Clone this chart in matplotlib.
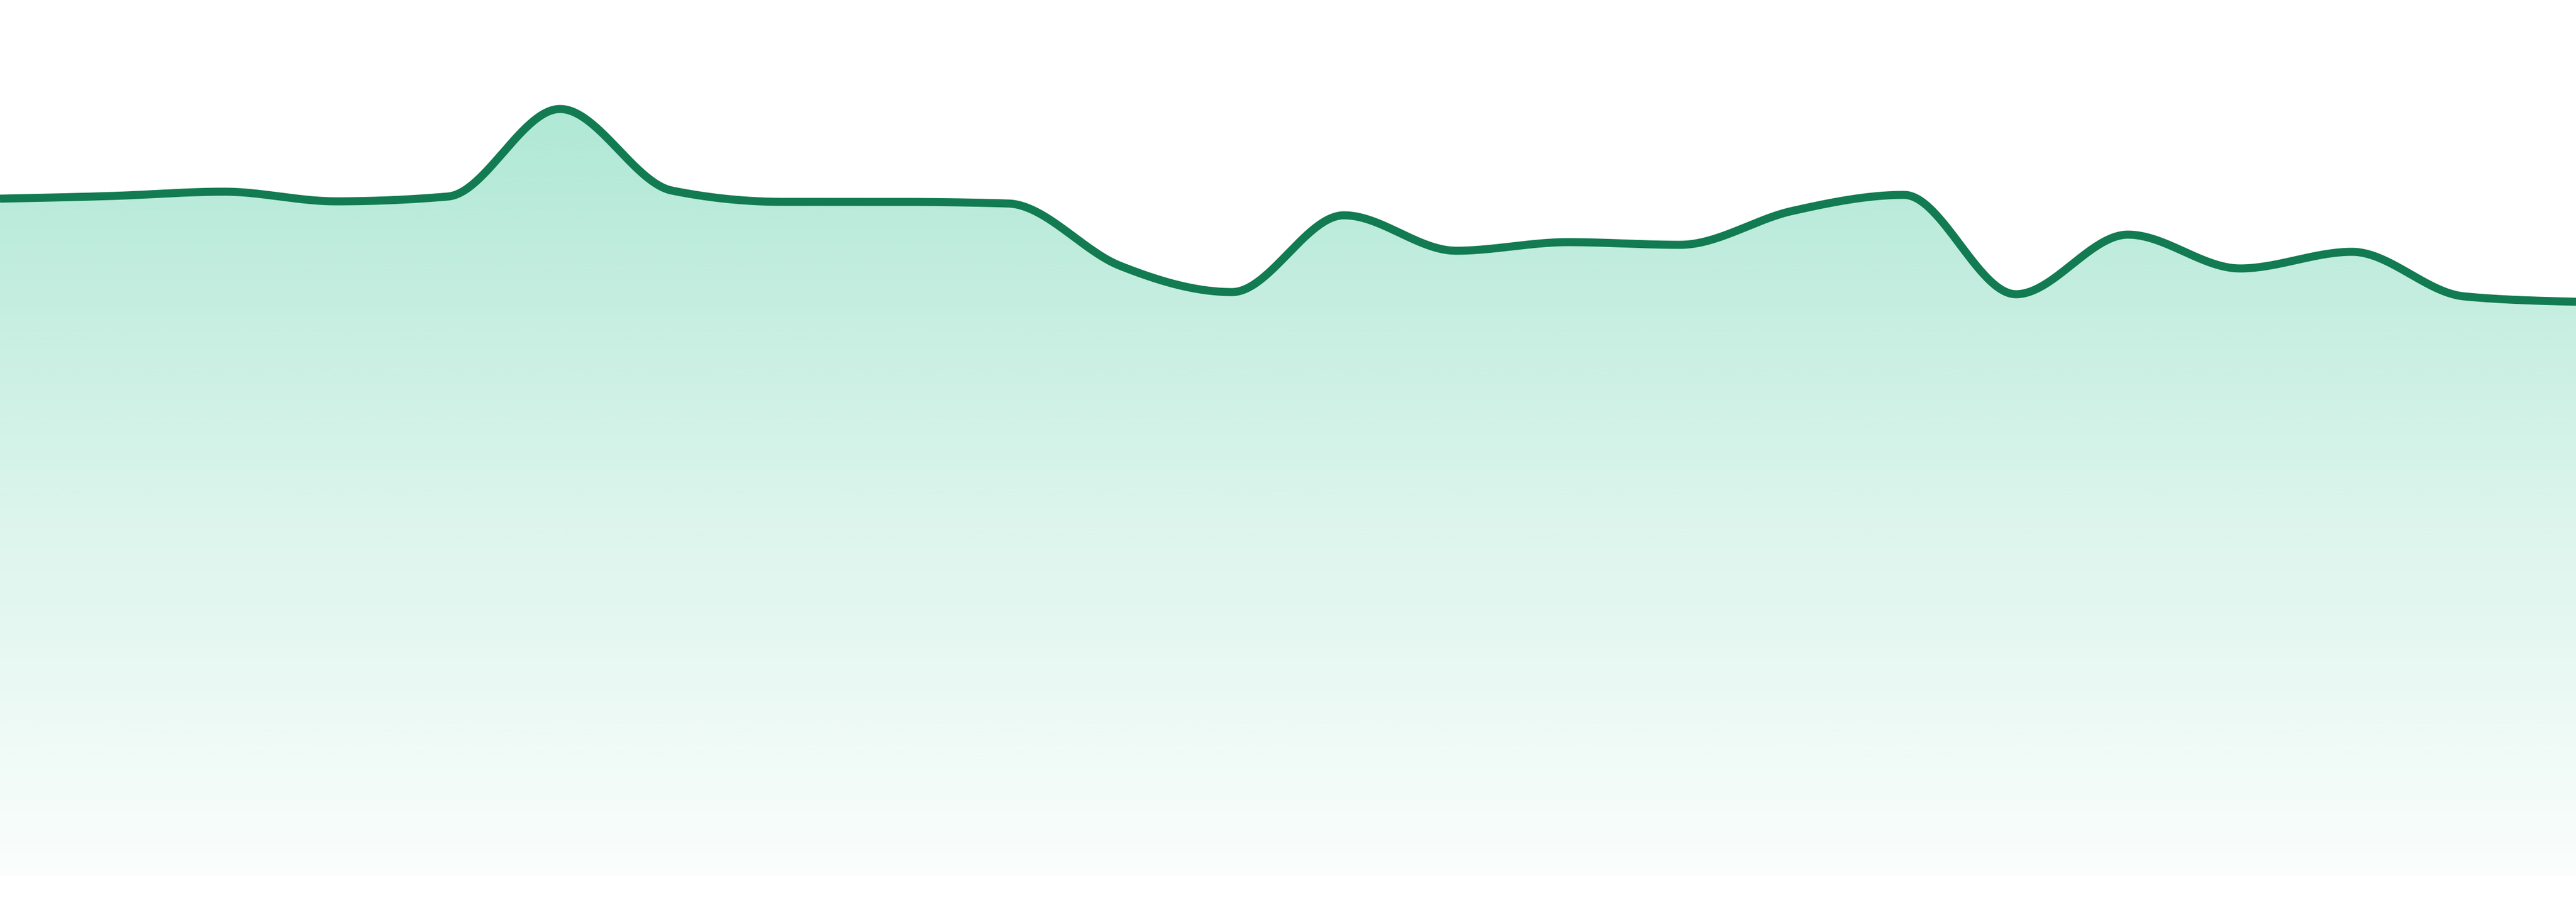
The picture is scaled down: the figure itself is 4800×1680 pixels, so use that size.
import matplotlib
matplotlib.use('Agg')
import matplotlib.pyplot as plt
from matplotlib.patches import Polygon
from matplotlib.colors import to_rgb
import numpy as np

# one value per step
steps = list(range(24))
values = [126.2, 126.7, 127.5, 125.7, 126.6, 142.9, 127.7, 125.6,
          125.6, 125.3, 113.7, 108.8, 123.1, 116.5, 118.1, 117.6,
          123.9, 126.9, 108.4, 119.5, 113.2, 116.3, 108.0, 107.0]

line_color = '#127b52'
fill_color = '#10b981'


def monotone_x(x, y, n=60):
    """monotone cubic curve through the points (same rule as d3 curveMonotoneX)"""
    x = np.asarray(x, float)
    y = np.asarray(y, float)
    h = np.diff(x)
    s = np.diff(y) / h
    t = np.zeros_like(y)
    for i in range(1, len(x) - 1):
        p = (s[i-1]*h[i] + s[i]*h[i-1]) / (h[i-1] + h[i])
        t[i] = (np.sign(s[i-1]) + np.sign(s[i])) * min(abs(s[i-1]), abs(s[i]), 0.5*abs(p))
    t[0] = (3*s[0] - t[1]) / 2
    t[-1] = (3*s[-1] - t[-2]) / 2
    xs, ys = [], []
    u = np.linspace(0, 1, n)
    for i in range(len(x) - 1):
        dx = h[i] / 3
        p0 = (x[i], y[i])
        p1 = (x[i] + dx, y[i] + dx*t[i])
        p2 = (x[i+1] - dx, y[i+1] - dx*t[i+1])
        p3 = (x[i+1], y[i+1])
        b = [(1-u)**3, 3*(1-u)**2*u, 3*(1-u)*u**2, u**3]
        xs.append(b[0]*p0[0] + b[1]*p1[0] + b[2]*p2[0] + b[3]*p3[0])
        ys.append(b[0]*p0[1] + b[1]*p1[1] + b[2]*p2[1] + b[3]*p3[1])
    return np.concatenate(xs), np.concatenate(ys)


W, H = 4800, 1680
bottom_gap = 48
ytop = 163.2

fig = plt.figure(figsize=(W/100, H/100), dpi=100)
fig.patch.set_facecolor('white')
ax = fig.add_axes([0, bottom_gap/H, 1, 1 - bottom_gap/H])
ax.set_xlim(steps[0], steps[-1])
ax.set_ylim(0, ytop)
ax.axis('off')

cx, cy = monotone_x(steps, values)

# vertical gradient under the curve, fading out to the bottom
rows = 400
lev = np.linspace(0, ytop, rows)
alpha = np.interp(lev, [0, 70, 142, ytop], [0.02, 0.155, 0.33, 0.37])
grad = np.zeros((rows, 1, 4))
grad[:, 0, :3] = to_rgb(fill_color)
grad[:, 0, 3] = alpha
img = ax.imshow(grad, extent=[steps[0], steps[-1], 0, ytop], origin='lower',
                aspect='auto', interpolation='bilinear', zorder=1)
verts = np.column_stack([np.r_[cx, steps[-1], steps[0]], np.r_[cy, 0, 0]])
clip = Polygon(verts, closed=True, facecolor='none', edgecolor='none', transform=ax.transData)
ax.add_patch(clip)
img.set_clip_path(clip)

ax.plot(cx, cy, color=line_color, lw=10.8, solid_joinstyle='round', solid_capstyle='butt', zorder=2)

fig.savefig('out.png', dpi=100, facecolor='white')
